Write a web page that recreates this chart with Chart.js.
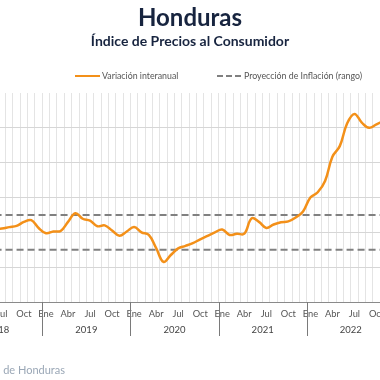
<!DOCTYPE html>
<html lang="es">
<head>
    <meta charset="UTF-8">
    <title>Honduras - IPC</title>
    <style>
        body { margin: 0; background: #fff; font-family: Lato, "Noto Sans", sans-serif; }
        #wrap { position: relative; width: 380px; height: 380px; overflow: hidden; }
        #chart { position: absolute; left: 0; top: 0; }
        .title { position: absolute; left: 0; width: 380px; text-align: center; color: #17243f; font-weight: 700; }
        #t1 { top: 2px; font-size: 24px; }
        #t2 { top: 32px; font-size: 14px; }
        .leg { position: absolute; top: 70px; font-size: 8.8px; color: #555; white-space: nowrap; }
        .sw { position: absolute; top: 75px; height: 0; }
        #footer { position: absolute; right: 315px; top: 363px; font-size: 11px; color: #9aa7b6; white-space: nowrap; }
    </style>
</head>
<body>
<div id="wrap">
    <canvas id="chart" width="380" height="380"></canvas>
    <div class="title" id="t1">Honduras</div>
    <div class="title" id="t2">Índice de Precios al Consumidor</div>
    <div class="sw" style="left:75px;width:25px;border-top:2.5px solid #f39019;"></div>
    <div class="leg" style="left:102px;">Variación interanual</div>
    <div class="sw" style="left:217px;width:24px;border-top:2px dashed #808080;"></div>
    <div class="leg" style="left:244px;">Proyección de Inflación (rango)</div>
    <div id="footer">Fuente: Banco Central de Honduras</div>
</div>

<script src="https://cdn.jsdelivr.net/npm/chart.js"></script>
<script>
    // months from Jun 2018 to Nov 2022
    const mesNombres = ['Ene', 'Feb', 'Mar', 'Abr', 'May', 'Jun', 'Jul', 'Ago', 'Sep', 'Oct', 'Nov', 'Dic'];
    const primerAnio = 2018;
    const primerMes = 5; // Jun
    const anios = [2018, 2019, 2020, 2021, 2022];
    const inflacion = [
        4.20, 4.22, 4.30, 4.37, 4.60, 4.70, 4.25,             // 2018 Jun-Dic
        3.95, 4.05, 4.08, 4.60, 5.10, 4.78, 4.67, 4.35, 4.40, 4.10, 3.80, 4.05, // 2019
        4.30, 4.00, 3.85, 3.10, 2.30, 2.70, 3.08, 3.22, 3.38, 3.60, 3.80, 4.00, // 2020
        4.16, 3.85, 3.92, 3.92, 4.80, 4.60, 4.25, 4.45, 4.58, 4.63, 4.85, 5.20, // 2021
        6.00, 6.30, 6.95, 8.34, 8.95, 10.25, 10.80, 10.30, 10.00, 10.20, 10.40  // 2022 Ene-Nov
    ];
    const rango = [5, 3];
    const yTicks = [0, 2, 4, 6, 8, 10, 12];

    const xMin = 0.74, xMax = 52.48;

    const serie = inflacion.map((v, i) => ({ x: i, y: v }));
    const lineaRango = (v) => [{ x: 0, y: v }, { x: inflacion.length - 1, y: v }];

    // year separators and year labels below month labels
    const aniosPlugin = {
        id: 'anios',
        afterDraw(chart) {
            const ctx = chart.ctx;
            const xs = chart.scales.x;
            const top = chart.chartArea.bottom;
            ctx.save();
            ctx.strokeStyle = '#7a7a7a';
            ctx.lineWidth = 1;
            ctx.fillStyle = '#444';
            ctx.font = '9.5px Lato, "Noto Sans", sans-serif';
            ctx.textAlign = 'center';
            ctx.textBaseline = 'middle';
            anios.forEach(a => {
                const ini = (a - primerAnio) * 12 - primerMes - 0.5;
                const px = Math.round(xs.getPixelForValue(ini)) + 0.5;
                ctx.beginPath();
                ctx.moveTo(px, top);
                ctx.lineTo(px, top + 34);
                ctx.stroke();
                ctx.fillText(String(a), xs.getPixelForValue(ini + 6), top + 28);
            });
            ctx.restore();
        }
    };

    new Chart(document.getElementById('chart'), {
        type: 'line',
        data: {
            datasets: [{
                label: 'Variación interanual',
                data: serie,
                borderColor: '#f39019',
                borderWidth: 2.5,
                pointRadius: 0,
                tension: 0.4,
                fill: false
            }, {
                label: 'Proyección de Inflación (rango)',
                data: lineaRango(rango[0]),
                borderColor: '#808080',
                borderWidth: 2,
                borderDash: [7, 4],
                pointRadius: 0
            }, {
                label: 'rango inferior',
                data: lineaRango(rango[1]),
                borderColor: '#808080',
                borderWidth: 2,
                borderDash: [7, 4],
                pointRadius: 0
            }]
        },
        options: {
            responsive: false,
            animation: false,
            layout: { padding: { top: 93, bottom: 48, left: 0, right: 0 } },
            plugins: {
                legend: { display: false },
                tooltip: { enabled: false }
            },
            scales: {
                x: {
                    type: 'linear',
                    min: xMin,
                    max: xMax,
                    afterBuildTicks(s) {
                        const t = [];
                        for (let v = Math.ceil(xMin * 2) / 2; v <= xMax; v += 0.5) t.push({ value: v });
                        s.ticks = t;
                    },
                    afterFit(s) {
                        s.height = 30;
                        s.paddingLeft = 0;
                        s.paddingRight = 0;
                    },
                    grid: {
                        color: c => (c.tick && c.tick.value % 1 !== 0) ? '#e4e4e4' : 'rgba(0,0,0,0)',
                        drawTicks: false
                    },
                    border: { color: '#8a8a8a', width: 1 },
                    ticks: {
                        autoSkip: false,
                        maxRotation: 0,
                        padding: 6,
                        color: '#555',
                        font: { family: 'Lato, "Noto Sans", sans-serif', size: 9.3 },
                        callback(v) {
                            if (v % 1 !== 0) return '';
                            const m = (primerMes + v) % 12;
                            return m % 3 === 0 ? mesNombres[m] : '';
                        }
                    }
                },
                y: {
                    min: yTicks[0],
                    max: yTicks[yTicks.length - 1],
                    afterBuildTicks(s) {
                        s.ticks = yTicks.map(v => ({ value: v }));
                    },
                    afterFit(s) { s.width = 0; },
                    grid: {
                        color: c => (c.tick && c.tick.value > yTicks[0] && c.tick.value < yTicks[yTicks.length - 1]) ? '#d6d6d6' : 'rgba(0,0,0,0)',
                        drawTicks: false
                    },
                    border: { display: false },
                    ticks: { display: false }
                }
            }
        },
        plugins: [aniosPlugin]
    });
</script>
</body>
</html>
